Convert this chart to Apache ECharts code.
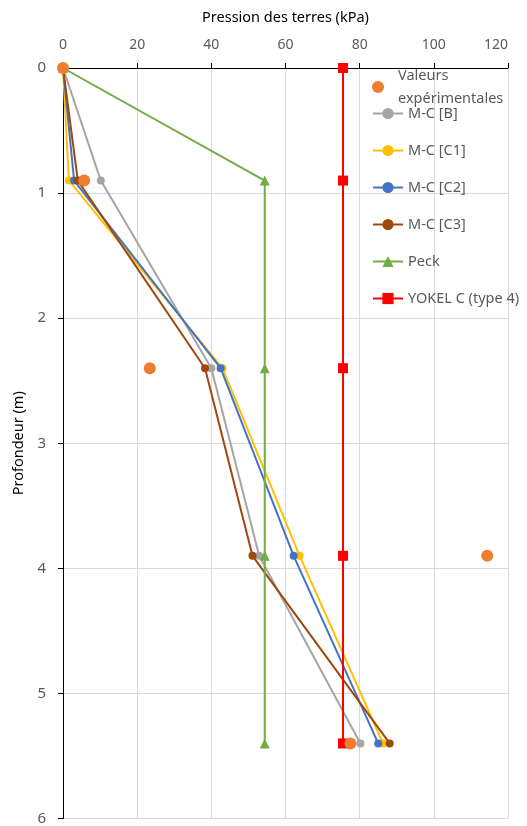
<!DOCTYPE html>
<html><head><meta charset="utf-8">
<script src="https://cdn.jsdelivr.net/npm/echarts@6/dist/echarts.min.js"></script>
<style>html,body{margin:0;padding:0;background:#fff}#c{width:527px;height:826px}</style>
</head><body><div id="c"></div>
<script>
const depths = [0, 0.9, 2.4, 3.9, 5.4];
const experimental = [0, 5.7, 23.4, 114.4, 77.5];
const mcB = [0, 10.2, 40.0, 52.9, 80.2];
const mcC1 = [0, 1.6, 43.0, 63.8, 86.3];
const mcC2 = [0, 3.0, 42.5, 62.2, 85.0];
const mcC3 = [0, 4.0, 38.3, 51.1, 88.1];
const peck = [0, 54.4, 54.4, 54.4, 54.4];
const yokel = [75.5, 75.5, 75.5, 75.5, 75.5];
const xTicks = [0, 20, 40, 60, 80, 100, 120];
const yTicks = [0, 1, 2, 3, 4, 5, 6];

const FONT = 'Noto Sans';
const pairs = vals => vals.map((v, i) => [v, depths[i]]);

function lineSeries(name, vals, color, symbol, size) {
  return {
    name, type: 'line', data: pairs(vals), symbol, symbolSize: size,
    lineStyle: {color, width: 2}, itemStyle: {color}, z: 2
  };
}

const chart = echarts.init(document.getElementById('c'), null, {renderer: 'canvas'});
chart.setOption({
  animation: false,
  textStyle: {fontFamily: FONT},
  grid: {left: 63, right: 19, top: 68, bottom: 6},
  xAxis: {
    type: 'value', position: 'top', min: xTicks[0], max: xTicks[xTicks.length - 1], interval: 20,
    name: 'Pression des terres (kPa)', nameLocation: 'middle', nameGap: 43,
    nameTextStyle: {color: '#000', fontSize: 14.5, fontFamily: FONT},
    axisLine: {show: true, lineStyle: {color: '#000', width: 1}},
    axisTick: {show: true, length: 5, inside: false, lineStyle: {color: '#000'}},
    axisLabel: {color: '#595959', fontSize: 14, margin: 16, fontFamily: FONT, alignMaxLabel: 'right'},
    splitLine: {show: true, lineStyle: {color: '#D9D9D9', width: 1}}
  },
  yAxis: {
    type: 'value', inverse: true, min: yTicks[0], max: yTicks[yTicks.length - 1], interval: 1,
    name: 'Profondeur (m)', nameLocation: 'middle', nameGap: 32, nameRotate: 90,
    nameTextStyle: {color: '#000', fontSize: 14.5, fontFamily: FONT},
    axisLine: {show: true, lineStyle: {color: '#000', width: 1}},
    axisTick: {show: true, length: 5, lineStyle: {color: '#000'}},
    axisLabel: {color: '#595959', fontSize: 15, margin: 17, fontFamily: FONT},
    splitLine: {show: true, lineStyle: {color: '#D9D9D9', width: 1}}
  },
  legend: [
    {
      data: ['Valeurs expérimentales'], orient: 'vertical', left: 372, top: 64, padding: 0,
      itemWidth: 30, itemHeight: 12,
      formatter: () => 'Valeurs\nexpérimentales',
      textStyle: {color: '#595959', fontSize: 14.5, lineHeight: 23, fontFamily: FONT}
    },
    {
      data: ['M-C [B]', 'M-C [C1]', 'M-C [C2]', 'M-C [C3]', 'Peck', 'YOKEL C (type 4)'],
      orient: 'vertical', left: 372, top: 106, itemGap: 22, padding: 0,
      itemWidth: 30, itemHeight: 14,
      textStyle: {color: '#595959', fontSize: 14.5, fontFamily: FONT}
    }
  ],
  series: [
    lineSeries('M-C [B]', mcB, '#A5A5A5', 'circle', 8),
    lineSeries('M-C [C1]', mcC1, '#FFC000', 'circle', 8),
    lineSeries('M-C [C2]', mcC2, '#4472C4', 'circle', 8),
    lineSeries('M-C [C3]', mcC3, '#9E480E', 'circle', 8),
    lineSeries('Peck', peck, '#70AD47', 'triangle', 10),
    lineSeries('YOKEL C (type 4)', yokel, '#FF0000', 'rect', 10),
    {
      name: 'Valeurs expérimentales', type: 'scatter', data: pairs(experimental),
      symbol: 'circle', symbolSize: 12, itemStyle: {color: '#ED7D31', opacity: 1}, z: 5
    }
  ]
});
</script></body></html>
